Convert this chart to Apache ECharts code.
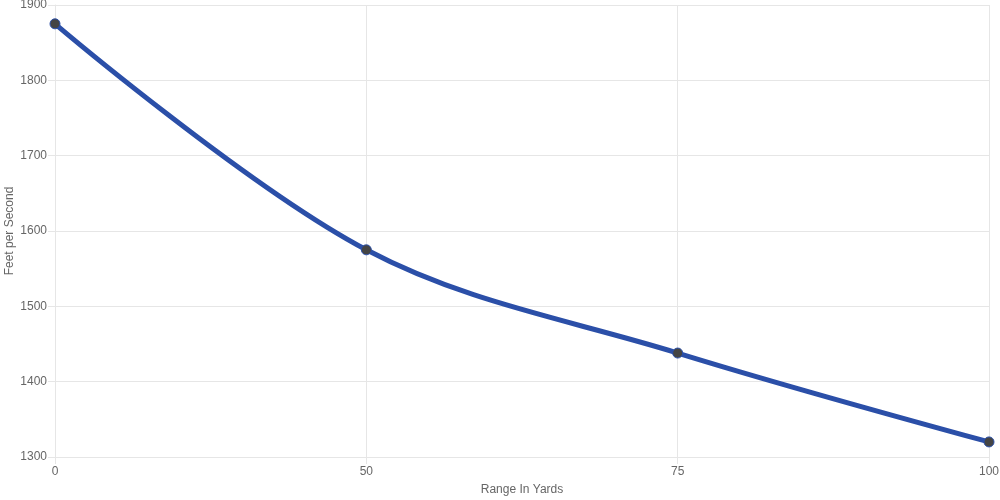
<!DOCTYPE html>
<html><head><meta charset="utf-8">
<script src="https://cdn.jsdelivr.net/npm/echarts@6/dist/echarts.min.js"></script>
<style>html,body{margin:0;padding:0;background:#fff}#c{width:1000px;height:500px}</style>
</head><body><div id="c"></div>
<script>
const categories = ['0', '50', '75', '100'];
const velocity = [1875, 1575, 1438, 1320];
const yMin = 1300, yMax = 1900, yStep = 100;

const chart = echarts.init(document.getElementById('c'), null, {renderer: 'canvas'});
const grid = '#e6e6e6';
const font = 'Liberation Sans, Arial, sans-serif';
chart.setOption({
  animation: false,
  grid: {left: 55, right: 11, top: 5, bottom: 43, containLabel: false, outerBoundsMode: 'none'},
  xAxis: {
    type: 'category', data: categories, boundaryGap: false,
    name: 'Range In Yards', nameLocation: 'middle', nameGap: 27, nameMoveOverlap: false,
    nameTextStyle: {color: '#666', fontSize: 12, fontFamily: font},
    axisLine: {lineStyle: {color: grid}},
    axisTick: {show: true, length: 7, lineStyle: {color: grid}},
    axisLabel: {color: '#666', fontSize: 12, fontFamily: font, margin: 9},
    splitLine: {show: true, lineStyle: {color: grid}}
  },
  yAxis: {
    type: 'value', min: yMin, max: yMax, interval: yStep,
    name: 'Feet per Second', nameLocation: 'middle', nameGap: 39, nameRotate: 90, nameMoveOverlap: false,
    nameTextStyle: {color: '#666', fontSize: 12, fontFamily: font},
    axisLine: {show: true, lineStyle: {color: grid}},
    axisTick: {show: true, length: 7, lineStyle: {color: grid}},
    axisLabel: {color: '#666', fontSize: 12, fontFamily: font, margin: 8, formatter: v => String(v)},
    splitLine: {show: true, lineStyle: {color: grid}}
  },
  series: [{
    type: 'line', data: velocity, smooth: 0.35,
    symbol: 'circle', symbolSize: 10,
    lineStyle: {color: '#2b4fa8', width: 5},
    itemStyle: {color: '#444', borderColor: '#2b4fa8', borderWidth: 1}
  }]
});
</script></body></html>
